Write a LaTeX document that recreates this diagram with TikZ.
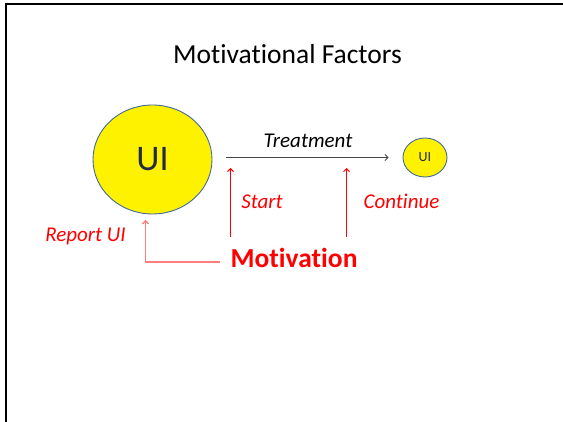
\documentclass[tikz,border=0pt]{standalone}
\usepackage{fontspec}
\setmainfont{Carlito}[Ligatures=NoCommon]
\usetikzlibrary{shapes.geometric,arrows.meta}
\definecolor{uiblue}{RGB}{65,105,155}
\definecolor{uitext}{RGB}{35,45,65}
\definecolor{pinkline}{RGB}{255,125,125}
\definecolor{treatgray}{RGB}{70,70,70}
\begin{document}
\begin{tikzpicture}[x=1pt,y=-1pt,
	every node/.style={inner sep=0pt},
	blob/.style={ellipse,draw=uiblue,fill=yellow,line width=0.9pt,text=uitext},
	redlab/.style={text=red,font=\fontsize{21}{25}\selectfont\itshape,anchor=base},
	redarr/.style={red,line width=1pt,-{Straight Barb[length=3pt,width=6pt]}}]
	\useasboundingbox (0,0) rectangle (563,422);
	\draw[line width=2pt] (563,4) -- (6,4) -- (6,422);
	\node[anchor=base] (title) at (287.5,64) {\fontsize{27.5}{32}\selectfont Motivational Factors};
	\node[blob,minimum width=119pt,minimum height=109pt,font=\fontsize{36}{40}\selectfont] (bigui) at (152.5,159.5) {UI};
	\node[blob,minimum width=44pt,minimum height=39pt,font=\fontsize{14}{16}\selectfont] (smallui) at (425,157.5) {UI};
	\node[anchor=base,font=\fontsize{21}{25}\selectfont\itshape] (treat) at (308,148) {Treatment};
	\coordinate (tfrom) at (226,157.5);
	\draw[treatgray,line width=0.8pt,-{Straight Barb[length=3pt,width=6pt]},shorten >=14pt] (tfrom) -- (smallui.west);
	\node[redlab] (start) at (262,209) {Start};
	\node[redlab] (cont) at (401.5,208.5) {Continue};
	\node[redlab] (report) at (85.5,241.5) {Report UI};
	\node[anchor=base,text=red,font=\fontsize{27.5}{32}\selectfont\bfseries] (motiv) at (294,267.5) {Motivation};
	\foreach \x/\nm in {230.5/s, 346.5/c} {
		\coordinate (\nm from) at (\x,237);
		\coordinate (\nm to) at (\x,168);
		\draw[redarr] (\nm from) -- (\nm to);
	}
	\coordinate (rfrom) at (220,262);
	\coordinate (rto) at (145.5,220);
	\draw[pinkline,line width=1.3pt,-{Straight Barb[length=3pt,width=6pt]}] (rfrom) -| (rto);
\end{tikzpicture}
\end{document}
